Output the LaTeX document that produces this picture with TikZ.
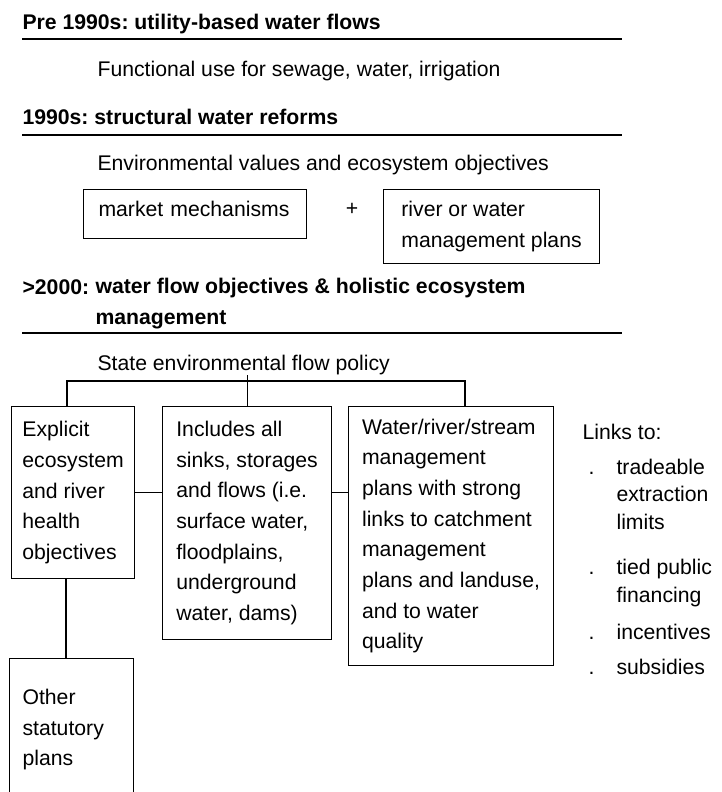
\documentclass[tikz,border=0pt]{standalone}
\usepackage{fontspec}
\setmainfont{Liberation Sans}
\usetikzlibrary{calc}
\newcommand{\flowfont}{\fontsize{21.2pt}{30.7pt}\selectfont\frenchspacing}
\newcommand{\linkfont}{\fontsize{21.2pt}{27.5pt}\selectfont}

\begin{document}
\begin{tikzpicture}[%
x=1pt, y=-1pt,
line width=1.1pt,
every node/.style={font=\flowfont, inner sep=0pt},
txt/.style={anchor=base west},
head/.style={anchor=base west, font=\flowfont\bfseries},
box/.style={draw, anchor=north west, align=left, inner ysep=0pt},
list/.style={anchor=base west, align=left, font=\linkfont},
]
\useasboundingbox (0,0) rectangle (721,792);
%% heading;
\node[head] (pre) at (22,30) {Pre 1990s: utility-based water flows};
\draw (22,39) -- (622,39);
\node[txt] (func) at (97,76) {Functional use for sewage, water, irrigation};
%% heading;
\node[head] (reform) at (22,124) {1990s: structural water reforms};
\draw (22,135) -- (622,135);
\node[txt] (env) at (97,170) {Environmental values and ecosystem objectives};
%% box;
\node[box, inner xsep=15pt, text width=193pt, minimum height=49pt, text height=15.5pt, text depth=10.5pt] (market) at (83,189) {market mechanisms};
\node (plus) at (352,209) {+};
\node[box, minimum width=216pt, minimum height=74pt] (river) at (383,189) {river or water\\management plans};
%% heading;
\node[head] (y2000) at (22,294) {>2000:};
\node[head, align=left] (holistic) at (95,324) {water flow objectives \& holistic ecosystem\\management};
\draw (22,333) -- (622,333);
%% label;
\node[txt] (state) at (97,370) {State environmental flow policy};
%% box;
\node[box, minimum width=123pt, minimum height=172pt] (expl) at (11,406) {Explicit\\ecosystem\\and river\\health\\objectives};
\node[box, minimum width=169pt, minimum height=233pt] (incl) at (162,406) {Includes all\\sinks, storages\\and flows (i.e.\\surface water,\\floodplains,\\underground\\water, dams)};
\node[box, minimum width=205pt, minimum height=259pt] (mgmt) at (348,406) {Water/river/stream\\management\\plans with strong\\links to catchment\\management\\plans and landuse,\\and to water\\quality};
\node[box, inner xsep=13pt, text width=98pt, minimum height=142pt] (other) at (9,658) {Other\\statutory\\plans};
%% links;
\coordinate (forkL) at (67,381);
\coordinate (forkR) at (465,381);
\coordinate (stem) at (66,0);
\draw (forkL |- expl.north) -- (forkL) -- (forkR) -- (forkR |- mgmt.north);
\draw (incl.north) -- (incl.north |- state.south);
\draw (expl.east) -- (expl.east -| incl.west);
\draw (incl.east |- expl.east) -- (mgmt.west |- expl.east);
\draw (stem |- expl.south) -- (stem |- other.north);
%% list;
\node[txt] (links) at (582,439) {Links to:};
\node[txt] (d1) at (588,474) {.};
\node[list] (trade) at (616,529) {tradeable\\extraction\\limits};
\node[txt] (d2) at (588,574) {.};
\node[list] (tied) at (616,602) {tied public\\financing};
\node[txt] (d3) at (588,639) {.};
\node[list] (incent) at (616,639) {incentives};
\node[txt] (d4) at (588,674) {.};
\node[list] (subs) at (616,674) {subsidies};
\end{tikzpicture}
\end{document}
